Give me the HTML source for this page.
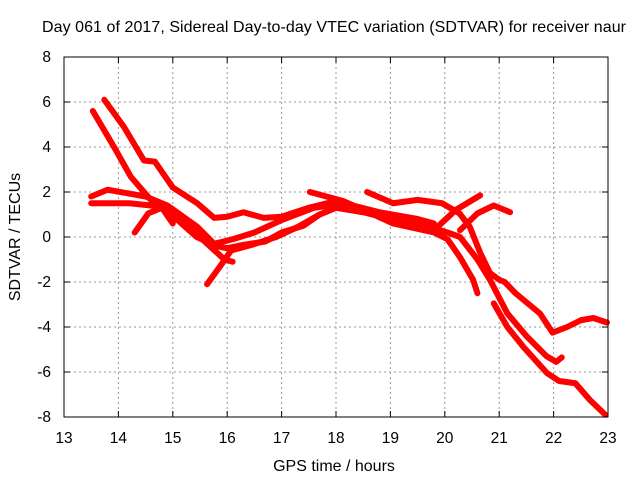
<!DOCTYPE html>
<html><head><meta charset="utf-8"><style>
body{margin:0;background:#fff}
svg{display:block;font-family:"Liberation Sans",sans-serif}
</style></head><body>
<svg id="chart" width="640" height="480" viewBox="0 0 640 480">
<text x="334" y="32" text-anchor="middle" font-size="16" textLength="584" fill="#000">Day 061 of 2017, Sidereal Day-to-day VTEC variation (SDTVAR) for receiver naur</text>
<text x="334" y="471" text-anchor="middle" font-size="16">GPS time / hours</text>
<text transform="translate(20,237) rotate(-90)" text-anchor="middle" font-size="16">SDTVAR / TECUs</text>
<g id="grid"></g>
<g id="ticks"></g>
<g id="series"></g>
<rect x="64" y="57" width="544" height="360" fill="none" stroke="#000" stroke-width="1"/>
</svg>
<script>
const xTicks=[13,14,15,16,17,18,19,20,21,22,23];
const yTicks=[-8,-6,-4,-2,0,2,4,6,8];
const trackA=[[13.53,5.6],[13.92,4.0],[14.23,2.67],[14.6,1.64],[15.02,0.9],[15.44,0.0],[15.8,-0.4],[16.0,-0.5],[16.3,-0.35],[16.7,-0.2],[17.0,0.2],[17.4,0.5],[17.7,1.0],[18.0,1.3]];
const trackB=[[13.74,6.1],[14.1,4.9],[14.47,3.4],[14.67,3.35],[15.0,2.2],[15.45,1.5],[15.76,0.85],[16.0,0.9],[16.3,1.1],[16.67,0.85],[17.0,0.9],[17.5,1.3],[18.0,1.6]];
const trackC=[[13.5,1.8],[13.8,2.1],[14.5,1.8],[14.9,1.4],[15.45,0.45],[15.76,-0.3],[16.1,-0.1],[16.5,0.2],[17.0,0.75],[17.6,1.3],[18.15,1.5],[18.8,1.1],[19.5,0.8],[19.8,0.6]];
const trackD=[[13.5,1.5],[14.2,1.5],[14.8,1.35],[15.3,0.45],[15.7,-0.45],[15.95,-1.0],[16.1,-1.1]];
const trackE=[[14.3,0.2],[14.55,1.05],[14.8,1.3],[15.0,0.6]];
const trackF=[[15.63,-2.1],[15.9,-1.2],[16.07,-0.6],[16.45,-0.35],[16.9,0.0],[17.3,0.45],[17.7,1.0],[18.0,1.3],[18.5,1.1],[19.0,0.8],[19.6,0.6]];
const trackG=[[17.52,2.0],[18.13,1.6],[18.6,1.1],[19.05,0.6],[19.8,0.2],[20.05,-0.1],[20.28,-0.9],[20.52,-1.9],[20.6,-2.5]];
const trackH=[[18.57,2.0],[19.05,1.5],[19.5,1.65],[19.95,1.5],[20.27,1.05],[20.46,0.45],[20.65,-0.7],[20.83,-1.6],[21.0,-1.9],[21.1,-2.0],[21.3,-2.5],[21.75,-3.4],[21.98,-4.25],[22.25,-4.0],[22.5,-3.7],[22.73,-3.6],[22.98,-3.8]];
const trackI=[[18.0,1.5],[18.7,1.1],[19.5,0.6],[20.05,0.2],[20.28,0.0],[20.6,-1.0],[20.83,-1.9],[21.15,-3.4],[21.5,-4.4],[21.87,-5.3],[22.05,-5.55],[22.15,-5.35]];
const trackJ=[[20.9,-2.95],[21.15,-4.0],[21.45,-4.9],[21.88,-6.05],[22.1,-6.4],[22.4,-6.5],[22.67,-7.25],[22.95,-7.9]];
const trackK=[[19.8,0.3],[20.2,1.2],[20.65,1.85]];
const trackL=[[20.28,0.3],[20.6,1.05],[20.9,1.4],[21.2,1.1]];
const tracks=[trackA,trackB,trackC,trackD,trackE,trackF,trackG,trackH,trackI,trackJ,trackK,trackL];
const X=t=>64+(t-13)*54.4, Y=v=>237-v*22.5;
const NS="http://www.w3.org/2000/svg";
const grid=document.getElementById('grid'),ticks=document.getElementById('ticks'),ser=document.getElementById('series');
function mk(tag,attrs,parent){const e=document.createElementNS(NS,tag);for(const k in attrs)e.setAttribute(k,attrs[k]);parent.appendChild(e);return e;}
xTicks.forEach(t=>{
  const x=X(t);
  if(t>13&&t<23){const g=mk('line',{x1:x,x2:x,y1:57,y2:417,stroke:'#999','stroke-dasharray':'2,3'},grid);
  
  }
  mk('line',{x1:x,x2:x,y1:417,y2:411,stroke:'#000'},ticks);
  mk('line',{x1:x,x2:x,y1:57,y2:63,stroke:'#000'},ticks);
  const l=mk('text',{x:x,y:443,'text-anchor':'middle','font-size':'15.5'},ticks);l.textContent=t;
  
  
});
yTicks.forEach(v=>{
  const y=Y(v);
  if(v>-8&&v<8){const g=mk('line',{x1:64,x2:608,y1:y,y2:y,stroke:'#999','stroke-dasharray':'2,3'},grid);
  
  }
  mk('line',{x1:64,x2:70,y1:y,y2:y,stroke:'#000'},ticks);
  mk('line',{x1:602,x2:608,y1:y,y2:y,stroke:'#000'},ticks);
  const l=mk('text',{x:51,y:y+5,'text-anchor':'end','font-size':'15.5'},ticks);l.textContent=v;
  
  
});
tracks.forEach(tr=>{
  const p=mk('polyline',{points:tr.map(d=>X(d[0])+','+Y(d[1])).join(' '),fill:'none',stroke:'#f00','stroke-width':6,'stroke-linejoin':'round','stroke-linecap':'round'},ser);
  
  
});
</script>
</body></html>
